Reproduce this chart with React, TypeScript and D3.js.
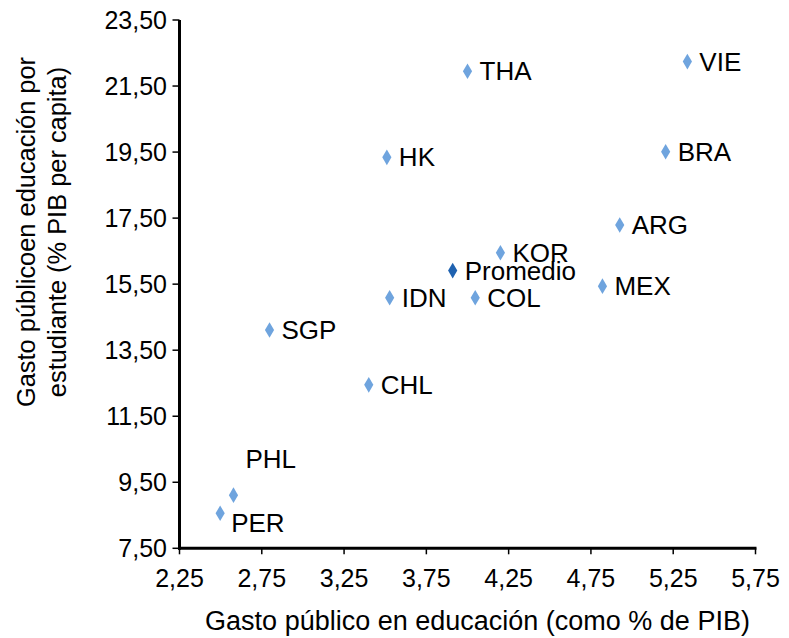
import React from "react";
import * as d3 from "d3";

const countries = ["THA", "VIE", "HK", "BRA", "ARG", "KOR", "Promedio", "MEX", "IDN", "COL", "SGP", "CHL", "PHL", "PER"];
const gastoPIB = [4.0, 5.336, 3.51, 5.204, 4.925, 4.2, 3.91, 4.82, 3.527, 4.047, 2.797, 3.4, 2.578, 2.497];
const gastoEstudiante = [21.95, 22.24, 19.34, 19.51, 17.29, 16.45, 15.91, 15.44, 15.09, 15.09, 14.11, 12.45, 9.11, 8.56];
const xTicks = [2.25, 2.75, 3.25, 3.75, 4.25, 4.75, 5.25, 5.75];
const yTicks = [7.5, 9.5, 11.5, 13.5, 15.5, 17.5, 19.5, 21.5, 23.5];

const W = 789;
const H = 638;
const FONT = "'Liberation Sans', Arial, sans-serif";
const FS = 25;
const LFS = 26;

export default function App() {
  const x = d3.scaleLinear().domain([2.25, 5.75]).range([179.5, 755.5]);
  const y = d3.scaleLinear().domain([7.5, 23.5]).range([548.3, 20]);
  const fmt = (v: number) => v.toFixed(2).replace(".", ",");
  const diamond = (cx: number, cy: number) => {
    const w = 4.6, h = 7.8;
    return `M${cx},${cy - h}L${cx + w},${cy}L${cx},${cy + h}L${cx - w},${cy}Z`;
  };
  const labelOffset = (name: string): [number, number] => {
    if (name === "PHL") return [12, -27];
    if (name === "PER") return [11, 18.5];
    return [12, 9];
  };
  return (
    <svg width={W} height={H} style={{ position: "absolute", left: 0, top: 0, background: "#fff" }} fontFamily={FONT}>
      <rect width={W} height={H} fill="#fff" />
      {/* axes */}
      <line x1={x(2.25)} x2={x(2.25)} y1={y(23.5)} y2={y(7.5) + 1.5} stroke="#000" strokeWidth={3} />
      <line x1={x(2.25) - 1.5} x2={x(5.75) + 1} y1={y(7.5)} y2={y(7.5)} stroke="#000" strokeWidth={3} />
      {yTicks.map((t) => (
        <g key={"y" + t}>
          <line x1={x(2.25) - 7} x2={x(2.25)} y1={y(t)} y2={y(t)} stroke="#000" strokeWidth={1.5} />
          <text x={167} y={y(t) + 9} textAnchor="end" fontSize={FS} fill="#000">{fmt(t)}</text>
        </g>
      ))}
      {xTicks.map((t) => (
        <g key={"x" + t}>
          <line x1={x(t)} x2={x(t)} y1={y(7.5)} y2={y(7.5) + 6} stroke="#000" strokeWidth={1.5} />
          <text x={x(t)} y={586.5} textAnchor="middle" fontSize={FS} fill="#000">{fmt(t)}</text>
        </g>
      ))}
      {/* points */}
      {countries.map((c, i) => {
        const cx = x(gastoPIB[i]);
        const cy = y(gastoEstudiante[i]);
        const [dx, dy] = labelOffset(c);
        return (
          <g key={c}>
            <path d={diamond(cx, cy)} fill={c === "Promedio" ? "#1F62B0" : "#6FA4DE"} />
            <text x={cx + dx} y={cy + dy} fontSize={LFS} fill="#000">{c}</text>
          </g>
        );
      })}
      {/* axis titles */}
      <text x={477.5} y={630} textAnchor="middle" fontSize={27} fill="#000">Gasto público en educación (como % de PIB)</text>
      <g transform="translate(0,232) rotate(-90)">
        <text x={0} y={35} textAnchor="middle" fontSize={25.4} fill="#000">Gasto públicoen educación por</text>
        <text x={0} y={66} textAnchor="middle" fontSize={25.4} fill="#000">estudiante (% PIB per capita)</text>
      </g>
    </svg>
  );
}
